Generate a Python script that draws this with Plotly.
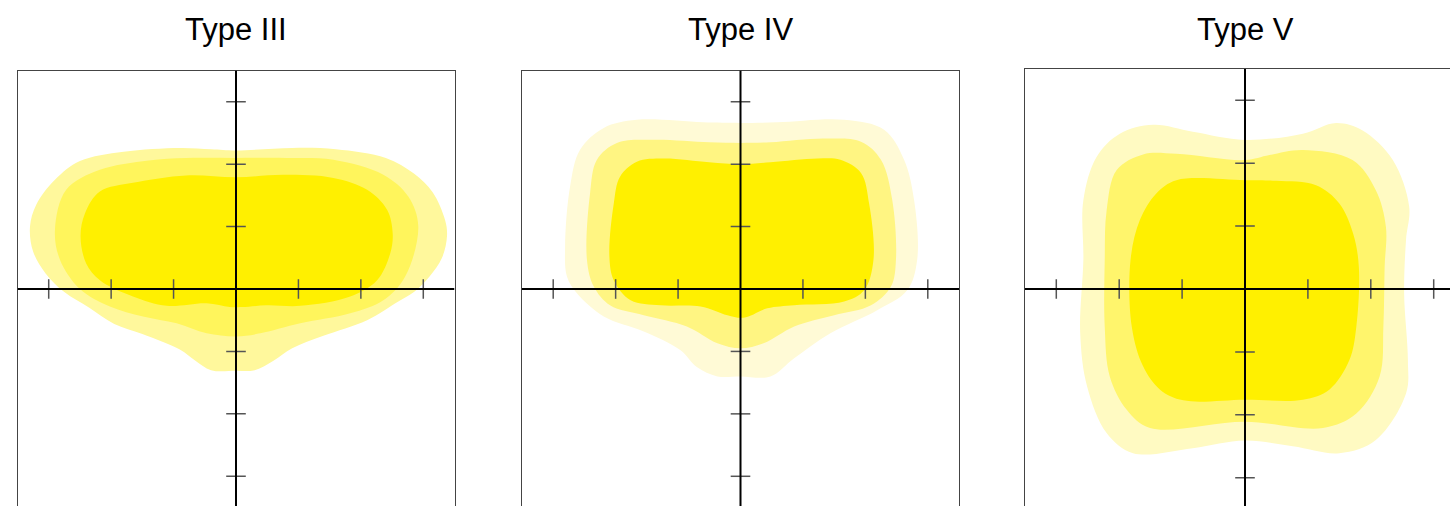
import plotly.graph_objects as go

# ---------------- data (axis units) ----------------
titles = ["Type III", "Type IV", "Type V"]
tick_values = [-3, -2, -1, 1, 2, 3]
level_names = ["outer", "middle", "inner"]

# Type III contours
t3_outer_x = [0, 0.9, 1.6, 2.4, 2.85, 3.15, 3.35, 3.38, 3.3, 3.1, 2.85, 2.6, 2.1, 1.4, 0.9, 0.6, 0.3, 0,
              -0.4, -0.65, -0.9, -1.5, -1.95, -2.35, -2.75, -3.05, -3.25, -3.3, -3.2, -2.9, -2.5, -1.8, -0.9, -0.4]
t3_outer_y = [2.22, 2.26, 2.24, 2.1, 1.85, 1.55, 1.1, 0.85, 0.5, 0.2, -0.05, -0.2, -0.5, -0.75, -0.95, -1.15, -1.3, -1.31,
              -1.3, -1.15, -0.97, -0.72, -0.56, -0.3, -0.05, 0.25, 0.6, 1.0, 1.35, 1.75, 2.05, 2.2, 2.26, 2.24]
t3_middle_x = [0, 0.81, 1.56, 2.36, 2.76, 2.92, 2.71, 2.36, 1.83, 1.03, 0.39, 0,
               -0.47, -0.95, -1.49, -2.02, -2.5, -2.82, -2.9, -2.72, -2.18, -1.4, -0.8]
t3_middle_y = [2.1, 2.1, 2.07, 1.83, 1.48, 1.0, 0.2, -0.18, -0.39, -0.55, -0.71, -0.76,
               -0.71, -0.55, -0.44, -0.28, 0.0, 0.47, 0.95, 1.59, 1.91, 2.06, 2.1]
t3_inner_x = [0, 0.76, 1.56, 2.1, 2.42, 2.51, 2.47, 2.26, 1.83, 1.03, 0.49, 0.1, -0.1, -0.47,
              -1.11, -1.65, -2.18, -2.4, -2.49, -2.42, -2.18, -1.65, -0.8]
t3_inner_y = [1.79, 1.83, 1.78, 1.59, 1.27, 0.89, 0.57, 0.14, -0.12, -0.27, -0.26, -0.29, -0.29, -0.23,
              -0.27, -0.12, 0.14, 0.41, 0.84, 1.21, 1.56, 1.7, 1.82]

# Type IV contours
t4_outer_x = [0, 0.59, 1.66, 2.3, 2.62, 2.78, 2.83, 2.67, 2.19, 1.44, 0.86, 0.48, 0,
              -0.37, -0.7, -0.96, -1.55, -2.19, -2.62, -2.78, -2.81, -2.73, -2.57, -2.19, -1.66, -0.6]
t4_outer_y = [2.66, 2.67, 2.71, 2.55, 2.07, 1.43, 0.47, -0.02, -0.34, -0.71, -1.11, -1.4, -1.4,
              -1.4, -1.25, -0.98, -0.68, -0.44, -0.07, 0.2, 0.68, 1.64, 2.23, 2.58, 2.71, 2.67]
t4_middle_x = [0, 0.48, 1.34, 1.93, 2.25, 2.43, 2.49, 2.41, 2.09, 1.5, 0.86, 0.37, 0,
               -0.37, -0.86, -1.55, -2.09, -2.35, -2.46, -2.41, -2.3, -1.98, -1.39, -0.5]
t4_middle_y = [2.34, 2.35, 2.41, 2.36, 2.07, 1.43, 0.47, 0.04, -0.26, -0.42, -0.6, -0.87, -0.95,
               -0.87, -0.6, -0.42, -0.26, 0.04, 0.47, 1.53, 2.07, 2.34, 2.39, 2.35]
t4_inner_x = [0, 0.48, 1.23, 1.6, 1.93, 2.06, 2.13, 1.98, 1.66, 0.86, 0.43, 0.05,
              -0.21, -0.64, -1.28, -1.76, -2.03, -2.1, -2.03, -1.93, -1.66, -1.23, -0.5]
t4_inner_y = [2.0, 2.03, 2.09, 2.07, 1.86, 1.37, 0.47, -0.02, -0.2, -0.26, -0.31, -0.46,
              -0.42, -0.28, -0.26, -0.18, 0.14, 0.52, 1.37, 1.8, 2.04, 2.09, 2.03]

# Type V contours
t5_outer_x = [0, 0.92, 1.45, 1.87, 2.35, 2.61, 2.56, 2.53, 2.59, 2.56, 2.08, 1.5, 0.76, 0,
              -0.83, -1.78, -2.2, -2.51, -2.62, -2.57, -2.57, -2.36, -1.99, -1.46, -0.83]
t5_outer_y = [2.37, 2.47, 2.64, 2.52, 2.05, 1.31, 0.78, -0.07, -1.13, -1.66, -2.4, -2.61, -2.5, -2.41,
              -2.53, -2.61, -2.29, -1.55, -0.7, 0.46, 1.41, 2.1, 2.47, 2.61, 2.5]
t5_middle_x = [0, 0.39, 0.92, 1.71, 2.08, 2.24, 2.22, 2.2, 2.14, 1.77, 1.24, 0,
               -1.51, -1.88, -2.15, -2.23, -2.23, -2.2, -2.04, -1.62, -1.09]
t5_middle_y = [2.05, 2.13, 2.21, 2.05, 1.57, 0.99, 0.35, -0.6, -1.39, -1.98, -2.21, -2.11,
               -2.21, -1.92, -1.39, -0.6, 0.46, 1.25, 1.89, 2.14, 2.15]
t5_inner_x = [0, 0.5, 1.13, 1.5, 1.72, 1.81, 1.77, 1.66, 1.34, 0.92, 0,
              -0.98, -1.35, -1.62, -1.8, -1.82, -1.67, -1.41, -1.09]
t5_inner_y = [1.73, 1.72, 1.65, 1.36, 0.88, 0.35, -0.6, -1.13, -1.6, -1.76, -1.76,
              -1.77, -1.6, -1.23, -0.6, 0.46, 1.1, 1.52, 1.73]

panels = [
    [(t3_outer_x, t3_outer_y), (t3_middle_x, t3_middle_y), (t3_inner_x, t3_inner_y)],
    [(t4_outer_x, t4_outer_y), (t4_middle_x, t4_middle_y), (t4_inner_x, t4_inner_y)],
    [(t5_outer_x, t5_outer_y), (t5_middle_x, t5_middle_y), (t5_inner_x, t5_inner_y)],
]
panel_colors = [
    ["#FFF89C", "#FFF55C", "#FFF000"],
    ["#FFFAD6", "#FFF582", "#FFF000"],
    ["#FFFAC2", "#FFF56C", "#FFF000"],
]

# ---------------- layout geometry ----------------
W, H = 1450, 506
u12 = 437 / 7.0
u3 = 62.9
geom = [
    dict(cx=236, cy=289, u=u12),
    dict(cx=740.5, cy=289, u=u12),
    dict(cx=1245, cy=289, u=u3),
]
title_y = 30

fig = go.Figure()
layout = dict(width=W, height=H, margin=dict(l=0, r=0, t=0, b=0, pad=0),
              paper_bgcolor="white", plot_bgcolor="white", showlegend=False)
shapes = []
annotations = []

for i, (contours, colors, g, title) in enumerate(zip(panels, panel_colors, geom, titles)):
    ax = "" if i == 0 else str(i + 1)
    xref, yref = "x" + ax, "y" + ax
    u, cx, cy = g["u"], g["cx"], g["cy"]
    x0 = cx - 3.5 * u
    x1 = min(cx + 3.5 * u, W)
    top = cy - 3.5 * u
    bottom = min(cy + 3.5 * u, H)
    xr = [-3.5, (x1 - cx) / u]
    yr = [-(bottom - cy) / u, 3.5]

    for (xs, ys), col, nm in zip(contours, colors, level_names):
        fig.add_trace(go.Scatter(x=list(xs) + [xs[0]], y=list(ys) + [ys[0]], mode="lines",
                                 fill="toself", fillcolor=col,
                                 line=dict(width=0, color=col, shape="spline", smoothing=1.0),
                                 hoverinfo="skip", name=nm, xaxis=xref, yaxis=yref))

    # axis cross
    shapes.append(dict(type="line", xref=xref, yref=yref, x0=xr[0], x1=xr[1], y0=0, y1=0,
                       line=dict(color="black", width=2), layer="above"))
    shapes.append(dict(type="line", xref=xref, yref=yref, x0=0, x1=0, y0=yr[0], y1=yr[1],
                       line=dict(color="black", width=2), layer="above"))
    # tick marks
    fig.add_trace(go.Scatter(x=tick_values, y=[0] * len(tick_values), mode="markers",
                             marker=dict(symbol="line-ns-open", size=14, color="#555555",
                                         line=dict(color="#555555", width=1.5)),
                             hoverinfo="skip", xaxis=xref, yaxis=yref))
    fig.add_trace(go.Scatter(x=[0] * len(tick_values), y=tick_values, mode="markers",
                             marker=dict(symbol="line-ew-open", size=14, color="#555555",
                                         line=dict(color="#555555", width=1.5)),
                             hoverinfo="skip", xaxis=xref, yaxis=yref))

    layout["xaxis" + ax] = dict(domain=[x0 / W, x1 / W], range=xr, showgrid=False, zeroline=False,
                                showticklabels=False, ticks="", side="top", showline=True,
                                linecolor="#444444", linewidth=1, mirror=False,
                                anchor=yref, fixedrange=True)
    layout["yaxis" + ax] = dict(domain=[(H - bottom) / H, (H - top) / H], range=yr, showgrid=False,
                                zeroline=False, showticklabels=False, ticks="", showline=True,
                                linecolor="#444444", linewidth=1, mirror=(i < 2),
                                anchor=xref, fixedrange=True)
    annotations.append(dict(text=title, xref="paper", yref="paper", x=cx / W, y=(H - title_y) / H,
                            xanchor="center", yanchor="middle", showarrow=False,
                            font=dict(family="Liberation Sans, Arial, sans-serif", size=31,
                                      color="black")))

layout["shapes"] = shapes
layout["annotations"] = annotations
fig.update_layout(**layout)
fig.write_html("out.html", config={"displayModeBar": False},
               post_script="document.body.style.margin='0';document.body.style.overflow='hidden';")
